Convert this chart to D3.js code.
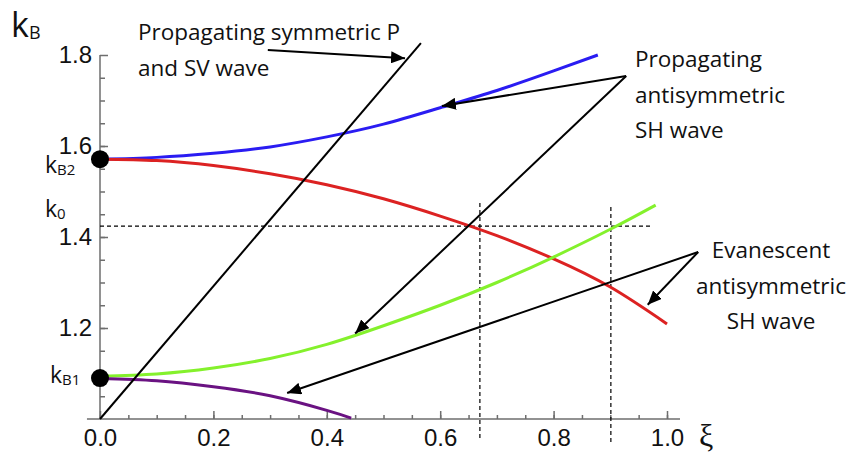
<!DOCTYPE html>
<html>
<head>
<meta charset="utf-8">
<script src="https://cdn.jsdelivr.net/npm/d3@7"></script>
<style>
  body { margin: 0; background: #fff; }
  svg { display: block; }
  .tick text { font-family: "Liberation Sans", Arial, sans-serif; font-size: 24px; fill: #111; }
  .note { font-family: "Open Sans", Lato, sans-serif; font-size: 22.5px; fill: #111; }
</style>
</head>
<body>
<svg id="chart" width="848" height="457"></svg>
<script>
// axis ticks
const xiTicks = [0, 0.2, 0.4, 0.6, 0.8, 1.0];
const kTicks = [1.2, 1.4, 1.6, 1.8];
const xiMinor = d3.range(0, 1.0001, 0.05);
const kMinor = d3.range(1.05, 1.8, 0.05);

// dispersion branches
const blueXi = [0, 0.1, 0.2, 0.3, 0.4, 0.5, 0.6, 0.7, 0.8, 0.878];
const blueK = [1.571, 1.575, 1.584, 1.598, 1.620, 1.648, 1.684, 1.722, 1.765, 1.800];
const redXi = [0, 0.1, 0.2, 0.3, 0.4, 0.5, 0.6, 0.7, 0.8, 0.9, 1.0];
const redK = [1.571, 1.568, 1.557, 1.539, 1.515, 1.484, 1.446, 1.403, 1.352, 1.290, 1.209];
const greenXi = [0, 0.1, 0.2, 0.3, 0.4, 0.5, 0.6, 0.7, 0.8, 0.9, 0.98];
const greenK = [1.094, 1.099, 1.112, 1.133, 1.164, 1.205, 1.250, 1.300, 1.356, 1.417, 1.470];
const purpleXi = [0, 0.1, 0.2, 0.3, 0.4, 0.443];
const purpleK = [1.089, 1.084, 1.071, 1.051, 1.019, 1.002];
// straight P/SV line
const lineXi = [0, 0.566];
const lineK = [1.0, 1.826];

// special values
const kB1 = 1.09, kB2 = 1.571, k0 = 1.424;
const k0End = 0.975;
const xiCross = [0.670, 0.901];
const crossTop = [1.475, 1.466];
const crossBottom = [0.958, 0.947];

// annotation arrows [xi0, k0, xi1, k1]
const arrows = [
  [0.296, 1.811, 0.538, 1.793],
  [0.928, 1.754, 0.603, 1.688],
  [0.928, 1.754, 0.450, 1.188],
  [1.055, 1.367, 0.966, 1.251],
  [1.055, 1.367, 0.330, 1.057]
];

const svg = d3.select('#chart');
const x = d3.scaleLinear().domain([0, 1]).range([100, 667]);
const y = d3.scaleLinear().domain([1.0, 1.8]).range([419, 55]);

const axisColor = '#6e6e6e';

// arrow marker
svg.append('defs').append('marker')
  .attr('id', 'head')
  .attr('markerUnits', 'userSpaceOnUse')
  .attr('viewBox', '0 0 14 12')
  .attr('refX', 14).attr('refY', 6)
  .attr('markerWidth', 14).attr('markerHeight', 12)
  .attr('orient', 'auto')
  .append('path').attr('d', 'M0,0 L14,6 L0,12 Z').attr('fill', '#000');

// axes
const gx = svg.append('g').attr('transform', `translate(0,${y(1.0)})`);
gx.call(d3.axisBottom(x).tickValues(xiMinor).tickSize(-4).tickFormat(''))
  .call(g => g.select('.domain').remove());
const gx2 = svg.append('g').attr('transform', `translate(0,${y(1.0)})`);
gx2.call(d3.axisBottom(x).tickValues(xiTicks).tickSize(-8).tickPadding(10).tickFormat(d3.format('.1f')))
  .call(g => g.select('.domain').remove());
svg.append('line').attr('class', 'axisline')
  .attr('x1', x(-0.023)).attr('x2', x(1.023))
  .attr('y1', y(1.0)).attr('y2', y(1.0));

const gy = svg.append('g').attr('transform', `translate(${x(0)},0)`);
gy.call(d3.axisLeft(y).tickValues(kMinor).tickSize(-5).tickFormat(''))
  .call(g => g.select('.domain').remove());
const gy2 = svg.append('g').attr('transform', `translate(${x(0)},0)`);
gy2.call(d3.axisLeft(y).tickValues(kTicks).tickSize(-8).tickPadding(8).tickFormat(d3.format('.1f')))
  .call(g => g.select('.domain').remove());
svg.append('line').attr('class', 'axisline')
  .attr('x1', x(0)).attr('x2', x(0))
  .attr('y1', y(1.0)).attr('y2', y(1.8));

svg.selectAll('.tick line').attr('stroke', axisColor).attr('stroke-width', 1.5);
svg.selectAll('line.axisline').attr('stroke', axisColor).attr('stroke-width', 1.5);

// dashed guides
const dash = '4,3';
svg.append('line')
  .attr('x1', x(0)).attr('x2', x(k0End))
  .attr('y1', y(k0)).attr('y2', y(k0))
  .attr('stroke', '#000').attr('stroke-width', 1.2).attr('stroke-dasharray', dash);
svg.selectAll('line.vdash').data(xiCross).join('line')
  .attr('class', 'vdash')
  .attr('x1', d => x(d)).attr('x2', d => x(d))
  .attr('y1', (d, i) => y(crossTop[i])).attr('y2', (d, i) => y(crossBottom[i]))
  .attr('stroke', '#000').attr('stroke-width', 1.2).attr('stroke-dasharray', dash);

// curves
const line = d3.line().x(d => x(d[0])).y(d => y(d[1])).curve(d3.curveNatural);
const series = [
  [blueXi, blueK, '#2a1cf2'],
  [redXi, redK, '#dc2222'],
  [greenXi, greenK, '#84f12c'],
  [purpleXi, purpleK, '#6a1282']
];
series.forEach(([xs, ks, c]) => {
  svg.append('path')
    .datum(d3.zip(xs, ks))
    .attr('d', line)
    .attr('fill', 'none')
    .attr('stroke', c)
    .attr('stroke-width', 3);
});

svg.append('path')
  .datum(d3.zip(lineXi, lineK))
  .attr('d', d3.line().x(d => x(d[0])).y(d => y(d[1])))
  .attr('stroke', '#000').attr('stroke-width', 2).attr('fill', 'none');

// arrows
svg.selectAll('line.arrow').data(arrows).join('line')
  .attr('class', 'arrow')
  .attr('x1', d => x(d[0])).attr('y1', d => y(d[1]))
  .attr('x2', d => x(d[2])).attr('y2', d => y(d[3]))
  .attr('stroke', '#000').attr('stroke-width', 2)
  .attr('marker-end', 'url(#head)');

// endpoints
svg.selectAll('circle.kb').data([kB2, kB1]).join('circle')
  .attr('class', 'kb')
  .attr('cx', x(0)).attr('cy', d => y(d)).attr('r', 9).attr('fill', '#000');

// k labels
function kLabel(px, py, sub, big) {
  const t = svg.append('text')
    .attr('x', px).attr('y', py)
    .attr('font-family', '"Open Sans", Lato, sans-serif')
    .attr('fill', '#111');
  t.append('tspan').attr('font-size', big ? 34 : 23).text('k');
  t.append('tspan').attr('font-size', big ? 18 : 15).attr('dy', big ? 2 : 2).text(sub);
}
kLabel(11, 37, 'B', true);
kLabel(45, y(kB2) + 14, 'B2');
kLabel(45, y(k0) - 9, '0');
kLabel(50, y(kB1) + 5, 'B1');

// xi label
svg.append('text')
  .attr('x', 699).attr('y', 446)
  .attr('font-family', '"Liberation Serif", "DejaVu Serif", serif')
  .attr('font-size', 32).attr('fill', '#111')
  .text('ξ');

// notes
const notes = [
  { x: 138, y: 40, anchor: 'start', lines: ['Propagating symmetric P', 'and SV wave'] },
  { x: 635, y: 67, anchor: 'start', lines: ['Propagating', 'antisymmetric', 'SH wave'] },
  { x: 771, y: 258, anchor: 'middle', lines: ['Evanescent', 'antisymmetric', 'SH wave'] }
];
notes.forEach(n => {
  const t = svg.append('text').attr('class', 'note')
    .attr('x', n.x).attr('y', n.y).attr('text-anchor', n.anchor);
  n.lines.forEach((s, i) => {
    t.append('tspan').attr('x', n.x).attr('dy', i === 0 ? 0 : 35.5).text(s);
  });
});
</script>
</body>
</html>
